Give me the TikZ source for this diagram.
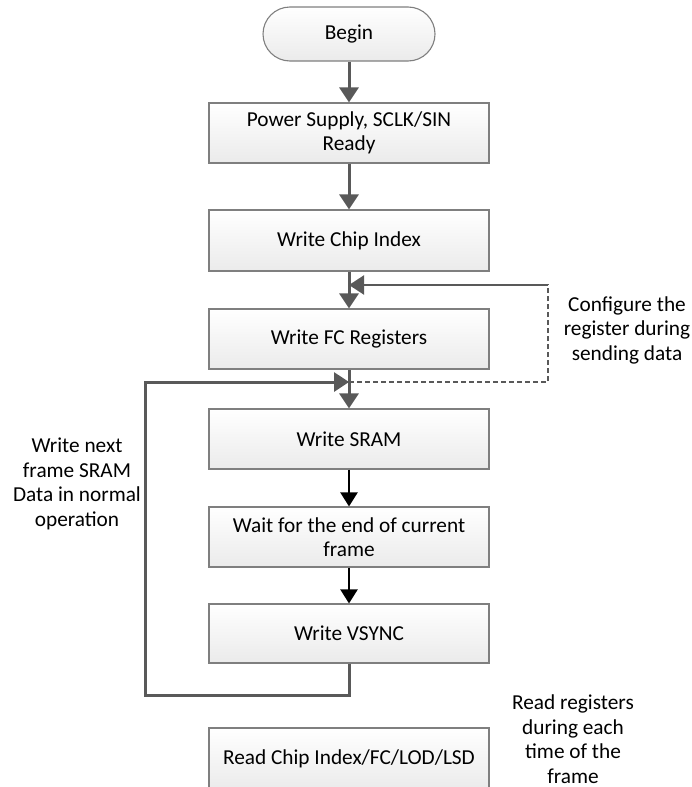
\documentclass[tikz,border=0pt]{standalone}
\usepackage{fontspec}
\setmainfont{Carlito}
\usetikzlibrary{arrows.meta}
\definecolor{edge}{HTML}{595959}
\definecolor{boxline}{HTML}{7F7F7F}
\begin{document}
\begin{tikzpicture}[x=1pt,y=-1pt,
  every node/.style={font=\fontsize{21.3}{24.5}\selectfont},
  stepbox/.style={draw=boxline,line width=1.1pt,top color=white,bottom color=black!8,
    minimum width=280pt,minimum height=60pt,inner sep=2pt,align=center},
  termbox/.style={draw=boxline,line width=1.1pt,top color=white,bottom color=black!8,
    minimum width=172pt,minimum height=54pt,rounded corners=27pt,align=center},
  label/.style={align=center},
  grayarrow/.style={draw=edge,line width=3pt,-{Triangle[length=15pt,width=19pt]}},
  blackarrow/.style={draw=black,line width=2.2pt,-{Triangle[length=14pt,width=17pt]}},
  loopline/.style={draw=edge,line width=3pt},
  dashline/.style={draw=edge,line width=2.2pt,dash pattern=on 5pt off 3pt}]
\clip (0,0) rectangle (691,787);
\node[termbox] (begin) at (349,34) {Begin};
\node[stepbox] (power) at (349,133) {Power Supply, SCLK/SIN\\Ready};
\node[stepbox,minimum height=61pt] (chip) at (349,240.5) {Write Chip Index};
\node[stepbox] (fc) at (349,339) {Write FC Registers};
\node[stepbox] (sram) at (349,439) {Write SRAM};
\node[stepbox] (wait) at (349,537) {Wait for the end of current\\frame};
\node[stepbox,minimum height=59pt] (vsync) at (349,633.5) {Write VSYNC};
\node[stepbox,minimum height=62pt] (read) at (349,759) {Read Chip Index/FC/LOD/LSD};

\coordinate (j1) at (349,382);
\coordinate (j2) at (349,285);
\coordinate (d1) at (548,382);
\coordinate (d2) at (548,285);
\coordinate (l1) at (349,695);
\coordinate (l2) at (145,695);
\coordinate (l3) at (145,382);

\node[label] (cfg) at (627,330) {Configure the\\register during\\sending data};
\node[label] (wnf) at (77,484) {Write next\\frame SRAM\\Data in normal\\operation};
\node[label] (rr) at (573,739) {Read registers\\during each\\time of the\\frame};

\draw[grayarrow] (begin) -- (power);
\draw[grayarrow] (power) -- (chip);
\draw[grayarrow] (chip) -- (fc);
\draw[grayarrow] (fc) -- (sram);
\draw[blackarrow] (sram) -- (wait);
\draw[blackarrow] (wait) -- (vsync);
\draw[loopline,line join=miter] (vsync.south) -- (l1) -- (l2) -- (l3) -- ([xshift=-8pt]j1);
\draw[grayarrow] (l3) -- (j1);
\draw[dashline] (j1) -- (d1) -- (d2) -- ([xshift=10pt]j2);
\draw[draw=edge,line width=2.2pt,-{Triangle[length=15pt,width=19pt]}] (d2) -- (j2);
\end{tikzpicture}
\end{document}
